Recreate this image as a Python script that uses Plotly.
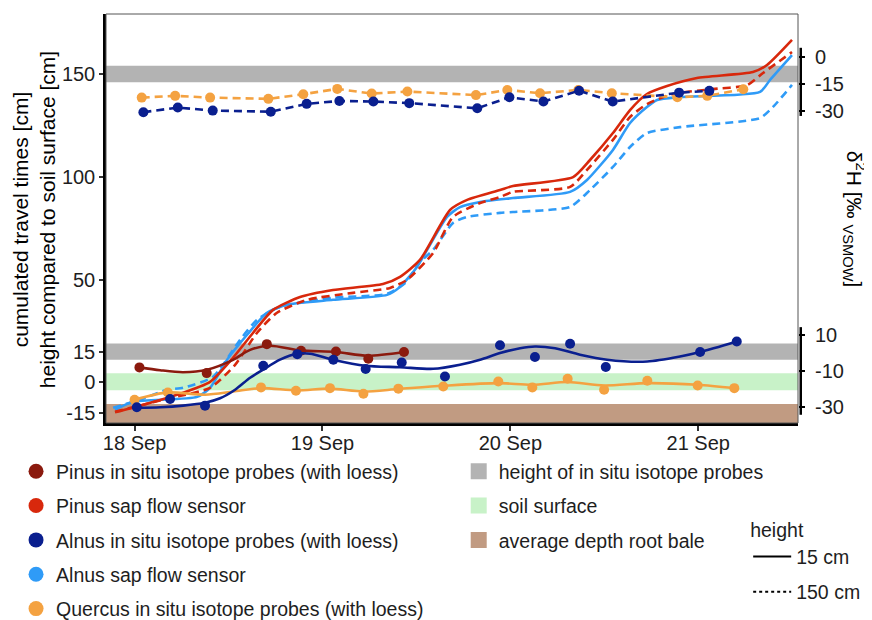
import plotly.graph_objects as go

# ---------------- DATA ----------------
# x values: days since 18 Sep 00:00
x_tick_vals = [0, 1, 2, 3]
x_tick_text = ["18 Sep", "19 Sep", "20 Sep", "21 Sep"]
y_tick_vals = [150, 100, 50, 15, 0, -15]
y_tick_text = ["150", "100", "50", "15", "0", "-15"]

# bands (cm)
band_names = ["height of in situ isotope probes", "height of in situ isotope probes",
              "soil surface", "average depth root bale"]
band_lo = [146, 11, -3.8, -19.7]
band_hi = [154, 19, 4.5, -10.5]

# sap flow cumulated travel times (cm)
pinus_sap15_day = [-0.104, 0.029, 0.226, 0.402, 0.524, 0.631, 0.737, 0.881, 1.056, 1.322, 1.413, 1.519,
                   1.679, 1.770, 1.945, 2.014, 2.334, 2.424, 2.546, 2.637, 2.727, 2.834, 2.993, 3.291,
                   3.366, 3.499]
pinus_sap15_cm = [-14.5, -11.3, -6.0, 0.3, 12.0, 24.2, 35.3, 41.6, 45.0, 47.9, 51.4, 59.6,
                  83.9, 88.8, 93.6, 95.6, 99.9, 108.2, 121.3, 132.5, 140.3, 144.2, 148.1, 151.0,
                  154.4, 166.6]
pinus_sap150_day = [-0.104, 0.173, 0.402, 0.535, 0.652, 0.758, 0.918, 1.163, 1.360, 1.450, 1.589, 1.695,
                    1.839, 1.945, 2.014, 2.318, 2.408, 2.546, 2.637, 2.727, 2.866, 3.079, 3.260, 3.345,
                    3.499]
pinus_sap150_cm = [-14.2, -7.9, -2.6, 8.6, 24.2, 33.9, 40.2, 43.6, 46.0, 49.9, 63.0, 80.5,
                   87.3, 90.2, 92.7, 95.1, 103.4, 118.0, 129.1, 135.4, 140.3, 142.7, 144.6, 150.5,
                   160.7]
alnus_sap15_day = [-0.104, -0.008, 0.333, 0.402, 0.492, 0.599, 0.705, 0.812, 1.056, 1.344, 1.413, 1.503,
                   1.663, 1.732, 1.839, 2.014, 2.318, 2.408, 2.546, 2.637, 2.727, 2.781, 2.903, 3.329,
                   3.382, 3.499]
alnus_sap15_cm = [-13.3, -9.4, -7.0, -2.6, 11.0, 23.2, 33.9, 37.8, 40.2, 42.6, 46.5, 56.2,
                  80.5, 85.3, 87.8, 89.7, 92.7, 98.5, 113.1, 126.2, 134.0, 137.4, 138.8, 141.3,
                  147.1, 159.2]
alnus_sap150_day = [-0.114, 0.029, 0.173, 0.258, 0.418, 0.561, 0.652, 0.774, 1.056, 1.344, 1.440, 1.519,
                    1.589, 1.695, 1.770, 1.945, 2.014, 2.318, 2.424, 2.546, 2.637, 2.727, 2.903, 3.329,
                    3.398, 3.499]
alnus_sap150_cm = [-12.3, -8.4, -3.5, -2.6, 2.8, 20.7, 30.5, 36.8, 41.2, 43.1, 48.4, 58.6,
                   64.5, 77.6, 80.5, 82.5, 82.9, 85.4, 93.6, 104.8, 114.5, 121.3, 124.2, 128.6,
                   134.0, 144.7]

# in situ isotope probes, 15 cm (delta 2H, permil VSMOW)
pinus_iso15_day = [0.026, 0.384, 0.704, 0.886, 1.072, 1.244, 1.434]
pinus_iso15_d2h = [-8.0, -11.2, 5.0, 1.3, 0.9, -3.2, 0.6]
pinus_loess_day = [0.024, 0.136, 0.258, 0.386, 0.524, 0.615, 0.721, 0.881, 1.072, 1.242, 1.434]
pinus_loess_d2h = [-8.0, -9.6, -10.7, -9.3, -3.8, 1.8, 4.1, 1.5, 0.6, -1.5, 0.6]

alnus_iso15_day = [0.012, 0.189, 0.375, 0.685, 0.866, 1.058, 1.230, 1.422, 1.652, 1.945, 2.131, 2.318,
                   2.508, 3.010, 3.205]
alnus_iso15_d2h = [-30.3, -25.7, -29.4, -7.1, -0.6, -3.7, -8.9, -5.3, -13.1, 4.4, -2.2, 5.2,
                   -7.8, 0.6, 6.5]
alnus_loess_day = [0.013, 0.136, 0.258, 0.375, 0.455, 0.535, 0.615, 0.684, 0.774, 0.865, 0.934, 1.056,
                   1.227, 1.413, 1.589, 1.732, 1.839, 1.945, 2.052, 2.131, 2.238, 2.371, 2.515, 2.728,
                   2.903, 3.010, 3.207]
alnus_loess_d2h = [-30.6, -30.3, -29.4, -27.8, -25.3, -20.5, -13.8, -9.3, -3.7, -0.4, -0.4, -3.7,
                   -7.1, -7.9, -8.8, -6.5, -3.7, 0.0, 2.7, 3.7, 2.7, -0.9, -3.7, -4.7,
                   -1.9, 0.6, 6.5]

quercus_iso15_day = [0.0, 0.177, 0.673, 0.859, 1.040, 1.218, 1.404, 1.643, 1.936, 2.117, 2.305, 2.499,
                     2.729, 2.997, 3.192]
quercus_iso15_d2h = [-26.1, -22.0, -19.2, -21.1, -19.6, -22.7, -19.9, -18.7, -15.9, -19.2, -14.4, -20.5,
                     -15.5, -18.1, -19.6]
quercus_loess_day = [0.0, 0.177, 0.375, 0.526, 0.673, 0.863, 1.040, 1.218, 1.404, 1.643, 1.936, 2.117,
                     2.305, 2.499, 2.729, 2.997, 3.192]
quercus_loess_d2h = [-26.1, -22.0, -23.3, -21.5, -19.6, -20.9, -19.9, -21.5, -20.1, -18.3, -16.8, -17.7,
                     -16.2, -18.1, -16.8, -17.7, -19.6]

# in situ isotope probes, 150 cm
alnus_iso150_day = [0.047, 0.230, 0.416, 0.725, 0.916, 1.090, 1.271, 1.462, 1.824, 1.995, 2.176, 2.366,
                    2.545, 2.898, 3.059]
alnus_iso150_d2h = [-30.9, -28.3, -30.0, -30.6, -26.2, -24.6, -24.9, -25.8, -28.7, -22.5, -24.9, -18.8,
                    -24.9, -19.9, -18.9]
quercus_iso150_day = [0.038, 0.216, 0.402, 0.712, 0.898, 1.079, 1.262, 1.452, 1.817, 1.984, 2.158, 2.362,
                      2.540, 2.889, 3.048, 3.240]
quercus_iso150_d2h = [-22.7, -21.7, -22.7, -23.4, -20.8, -17.8, -20.4, -19.3, -21.3, -18.4, -20.2, -18.4,
                      -20.2, -22.5, -21.7, -18.0]

upper_d2h_ticks = [0, -15, -30]
upper_d2h_text = ["0", "-15", "-30"]
lower_d2h_ticks = [10, -10, -30]
lower_d2h_text = ["10", "-10", "-30"]

# ---------------- STYLE ----------------
C_PINUS_ISO = "#8B1A0E"
C_PINUS_SAP = "#D8280C"
C_ALNUS_ISO = "#0A1F8F"
C_ALNUS_SAP = "#2F9BF7"
C_QUERC = "#F4A241"
C_GREY = "#B3B3B3"
C_GREEN = "#C8F2C8"
C_BROWN = "#C19B82"
band_colors = [C_GREY, C_GREY, C_GREEN, C_BROWN]
FONT = "Liberation Sans, Arial, sans-serif"
TXT = "#1e1e1e"
DASH = "8px,5px"
LW = 2.6
MS = 10

fig = go.Figure()

# bands
for lo, hi, col in zip(band_lo, band_hi, band_colors):
    fig.add_shape(type="rect", xref="paper", x0=0, x1=1, yref="y", y0=lo, y1=hi,
                  fillcolor=col, line_width=0, layer="below")

# sap flow lines
def sap(x, y, col, dash):
    fig.add_trace(go.Scatter(x=x, y=y, mode="lines", yaxis="y",
                             line=dict(color=col, width=LW, dash=dash, shape="spline", smoothing=0.6),
                             showlegend=False, hoverinfo="skip"))

sap(alnus_sap150_day, alnus_sap150_cm, C_ALNUS_SAP, DASH)
sap(alnus_sap15_day, alnus_sap15_cm, C_ALNUS_SAP, "solid")
sap(pinus_sap150_day, pinus_sap150_cm, C_PINUS_SAP, DASH)
sap(pinus_sap15_day, pinus_sap15_cm, C_PINUS_SAP, "solid")

# lower isotope (15 cm): loess lines + points
def loess(x, y, col):
    fig.add_trace(go.Scatter(x=x, y=y, mode="lines", yaxis="y3",
                             line=dict(color=col, width=LW, shape="spline", smoothing=0.8),
                             showlegend=False, hoverinfo="skip"))

def pts(x, y, col, ax):
    fig.add_trace(go.Scatter(x=x, y=y, mode="markers", yaxis=ax,
                             marker=dict(color=col, size=MS), showlegend=False))

loess(quercus_loess_day, quercus_loess_d2h, C_QUERC)
pts(quercus_iso15_day, quercus_iso15_d2h, C_QUERC, "y3")
loess(pinus_loess_day, pinus_loess_d2h, C_PINUS_ISO)
pts(pinus_iso15_day, pinus_iso15_d2h, C_PINUS_ISO, "y3")
loess(alnus_loess_day, alnus_loess_d2h, C_ALNUS_ISO)
pts(alnus_iso15_day, alnus_iso15_d2h, C_ALNUS_ISO, "y3")

# upper isotope (150 cm): dashed lines + points
for x, y, col in [(quercus_iso150_day, quercus_iso150_d2h, C_QUERC),
                  (alnus_iso150_day, alnus_iso150_d2h, C_ALNUS_ISO)]:
    fig.add_trace(go.Scatter(x=x, y=y, mode="lines+markers", yaxis="y2",
                             line=dict(color=col, width=LW, dash=DASH),
                             marker=dict(color=col, size=MS), showlegend=False))

# legend entries (dummy traces)
leg1 = [("Pinus in situ isotope probes (with loess)", C_PINUS_ISO),
        ("Pinus sap flow sensor", C_PINUS_SAP),
        ("Alnus in situ isotope probes (with loess)", C_ALNUS_ISO),
        ("Alnus sap flow sensor", C_ALNUS_SAP),
        ("Quercus in situ isotope probes (with loess)", C_QUERC)]
for name, col in leg1:
    fig.add_trace(go.Scatter(x=[None], y=[None], mode="markers", name=name, legend="legend",
                             legendgroup=name, marker=dict(color=col, size=15)))
leg2 = [("height of in situ isotope probes", C_GREY), ("soil surface", C_GREEN),
        ("average depth root bale", C_BROWN)]
for name, col in leg2:
    fig.add_trace(go.Scatter(x=[None], y=[None], mode="markers", name=name, legend="legend2",
                             legendgroup=name, marker=dict(color=col, size=16, symbol="square")))
for name, dash in [("15 cm", "solid"), ("150 cm", "3px,3px")]:
    fig.add_trace(go.Scatter(x=[None], y=[None], mode="lines", name=name, legend="legend3",
                             legendgroup=name, line=dict(color="black", width=2, dash=dash)))

# right-axis brackets
fig.add_shape(type="line", xref="paper", x0=1.004, x1=1.004, yref="y2", y0=5.3, y1=-33,
              line=dict(color="black", width=2.5))
fig.add_shape(type="line", xref="paper", x0=1.004, x1=1.004, yref="y3", y0=14.5, y1=-34.5,
              line=dict(color="black", width=2.5))
# panel border (top / right)
fig.add_shape(type="rect", xref="paper", yref="paper", x0=0, x1=1, y0=0, y1=1,
              line=dict(color="#555555", width=1), fillcolor="rgba(0,0,0,0)", layer="above")

TICK_SIZE = 20
LEG_SIZE = 19.5
TITLE_SIZE = 21
tickfont = dict(family=FONT, size=TICK_SIZE, color=TXT)
legfont = dict(family=FONT, size=LEG_SIZE, color=TXT)
fig.update_layout(
    # page body has an 8px margin, so the figure is 8px smaller to land on the 872x620 window
    width=864, height=612,
    margin=dict(l=98, r=74, t=6, b=197, autoexpand=False),
    paper_bgcolor="white", plot_bgcolor="white",
    font=dict(family=FONT, size=LEG_SIZE, color=TXT),
    xaxis=dict(range=[-0.152, 3.531], tickvals=x_tick_vals, ticktext=x_tick_text, automargin=False,
               showgrid=False, zeroline=False, showline=True, linecolor="black", linewidth=2.5,
               ticks="outside", ticklen=5, tickwidth=1.5, tickcolor="#333", tickfont=tickfont,
               ticklabelstandoff=-5),
    yaxis=dict(range=[-19.7, 179.2], tickvals=y_tick_vals, ticktext=y_tick_text, showgrid=False,
               zeroline=False, automargin=False, showline=True, linecolor="black", linewidth=2.5,
               ticks="outside", ticklen=4, tickwidth=1.5, tickcolor="#333", tickfont=tickfont),
    yaxis2=dict(overlaying="y", side="right", anchor="x", range=[-205.6, 24.3], automargin=False,
                tickvals=upper_d2h_ticks, ticktext=upper_d2h_text,
                showgrid=False, zeroline=False, showline=False, ticks="outside", ticklen=6,
                tickwidth=1.5, tickcolor="black", tickfont=tickfont, ticklabelstandoff=6),
    yaxis3=dict(overlaying="y", side="right", anchor="x", range=[-39.1, 189.6], automargin=False,
                tickvals=lower_d2h_ticks, ticktext=lower_d2h_text,
                showgrid=False, zeroline=False, showline=False, ticks="outside", ticklen=6,
                tickwidth=1.5, tickcolor="black", tickfont=tickfont, ticklabelstandoff=6),
    legend=dict(x=-0.130, y=-0.071, xanchor="left", yanchor="top", tracegroupgap=6,
                font=legfont, bgcolor="rgba(0,0,0,0)"),
    legend2=dict(x=0.5097, y=-0.071, xanchor="left", yanchor="top", tracegroupgap=6,
                 font=legfont, bgcolor="rgba(0,0,0,0)"),
    legend3=dict(x=0.928, y=-0.2176, xanchor="left", yanchor="top", tracegroupgap=7,
                 itemwidth=38, title=dict(text="height", font=legfont),
                 font=legfont, bgcolor="rgba(0,0,0,0)"),
    annotations=[
        dict(text="cumulated travel times [cm]<br>height compared to soil surface [cm]",
             xref="paper", yref="paper", x=-0.104, y=0.496, xanchor="center", yanchor="middle",
             textangle=-90, showarrow=False,
             font=dict(family=FONT, size=TITLE_SIZE, color="black")),
        dict(text="δ<sup>2</sup>H [‰ <sub>VSMOW</sub>]", xref="paper", yref="paper",
             x=1.081, y=0.499, xanchor="center", yanchor="middle", textangle=90, showarrow=False,
             font=dict(family=FONT, size=TITLE_SIZE, color="black")),
    ],
)

fig.write_html("out.html")
